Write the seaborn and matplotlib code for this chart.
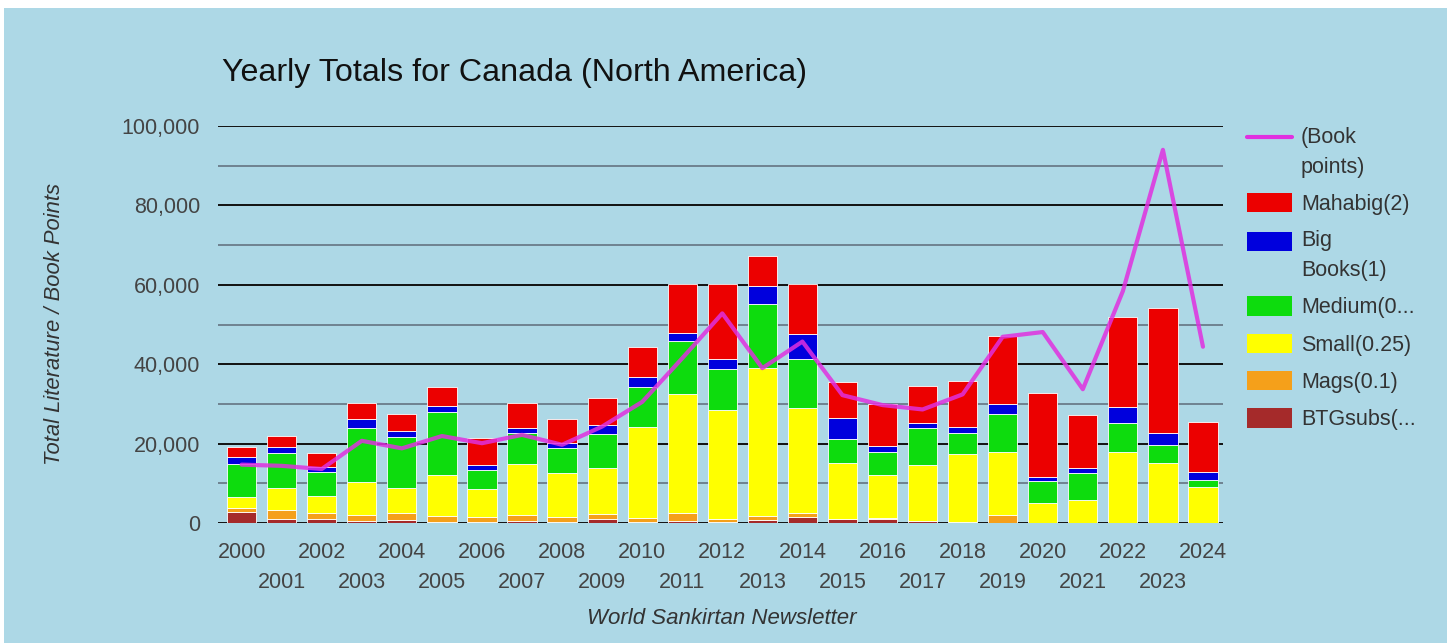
import pandas as pd
import matplotlib.pyplot as plt
import matplotlib.patches as mpatches
import matplotlib.lines as mlines
import matplotlib.transforms as mtransforms
from matplotlib.legend_handler import HandlerPatch, HandlerLine2D
import seaborn as sns

# --- Data ---
years = list(range(2000, 2025))

btg_subs = [2850, 900, 900, 600, 750, 300, 200, 500, 300, 900, 330, 600, 330,
            750, 1600, 900, 1100, 500, 100, 0, 0, 0, 0, 0, 0]
mags = [1000, 2400, 1700, 1400, 1850, 1450, 1250, 1500, 1130, 1300, 850, 1840,
        600, 1100, 840, 100, 100, 100, 230, 2000, 0, 0, 0, 0, 0]
small = [2600, 5600, 4200, 8400, 6300, 10350, 7050, 12850, 11070, 11600, 23070,
         30060, 27520, 37100, 26460, 14040, 10900, 14100, 17050, 15960, 5120,
         5800, 17960, 15040, 9000]
medium = [8500, 8800, 6100, 13600, 12700, 15900, 4850, 7900, 6300, 8600, 9950,
          13400, 10350, 16150, 12300, 6060, 5870, 9250, 5220, 9490, 5540, 6880,
          7310, 4610, 1830]
big_books = [1700, 1500, 1100, 2100, 1600, 1500, 1250, 1250, 1400, 2300, 2650,
             2050, 2400, 4600, 6400, 5300, 1440, 1250, 1650, 2550, 1010, 1090,
             4030, 3100, 2090]
mahabig = [2600, 2800, 3550, 4050, 4200, 4700, 6900, 6150, 5900, 6700, 7550,
           12150, 18900, 7550, 12500, 9050, 10600, 9250, 11600, 17100, 21130,
           13430, 22670, 31330, 12600]
book_points = [14700, 14400, 13600, 20700, 18800, 21900, 20100, 22200, 19700,
               24300, 30500, 41500, 52800, 39000, 45700, 32200, 29700, 28600,
               32400, 46900, 48100, 33700, 58400, 94000, 44400]

categories = ['Mahabig(2)', 'Big Books(1)', 'Medium(0...', 'Small(0.25)',
              'Mags(0.1)', 'BTGsubs(...']
legend_labels = ['Mahabig(2)', 'Big\nBooks(1)', 'Medium(0...', 'Small(0.25)',
                 'Mags(0.1)', 'BTGsubs(...']
colors = ['#ec0000', '#0000dd', '#0ddc0d', '#ffff00', '#f5a01a', '#a52a2a']
series = [mahabig, big_books, medium, small, mags, btg_subs]

# long table for seaborn stacking
rows = []
for cat, vals in zip(categories, series):
    for y, v in zip(years, vals):
        rows.append({'year': y, 'category': cat, 'count': v})
df = pd.DataFrame(rows)

# --- Style ---
BG = '#add8e6'
LINE_COLOR = '#e030e0'
LEG_FS = 15.5
sns.set_theme(style='white')
plt.rcParams['font.family'] = ['Liberation Sans', 'DejaVu Sans']


# legend handles sit next to the first line of a wrapped label
class RaisedPatch(HandlerPatch):
    def __init__(self, dy, **kw):
        super().__init__(**kw)
        self.dy = dy

    def create_artists(self, legend, orig_handle, xdescent, ydescent, width,
                       height, fontsize, trans):
        return super().create_artists(legend, orig_handle, xdescent,
                                      ydescent - self.dy, width, height,
                                      fontsize, trans)


class RaisedLine(HandlerLine2D):
    def __init__(self, dy, **kw):
        super().__init__(**kw)
        self.dy = dy

    def create_artists(self, legend, orig_handle, xdescent, ydescent, width,
                       height, fontsize, trans):
        return super().create_artists(legend, orig_handle, xdescent,
                                      ydescent - 2 * self.dy, width, height,
                                      fontsize, trans)


fig = plt.figure(figsize=(14.47, 6.43), dpi=100, facecolor='white')
fig.patches.append(mpatches.Rectangle((4 / 1447, 0), 1, 1 - 8 / 643,
                                      transform=fig.transFigure,
                                      facecolor=BG, edgecolor='none', zorder=-10))

ax = fig.add_axes([218 / 1447, 120 / 643, (1223 - 218) / 1447, (523 - 126) / 643])
ax.set_facecolor(BG)

sns.histplot(data=df, x='year', weights='count', hue='category',
             hue_order=categories, palette=dict(zip(categories, colors)),
             multiple='stack', discrete=True, shrink=0.73, alpha=1,
             edgecolor='white', linewidth=0.6, legend=False, ax=ax, zorder=2)

sns.lineplot(x=years, y=book_points, color=LINE_COLOR, linewidth=3, alpha=0.85,
             ax=ax, zorder=3)

# axes / gridlines
ax.set_xlim(1999.41, 2024.5)
ax.set_ylim(0, 100000)
ax.set_yticks(range(0, 100001, 20000))
ax.set_yticks(range(10000, 100000, 20000), minor=True)
ax.set_yticklabels([f'{v:,}' for v in range(0, 100001, 20000)])
ax.grid(axis='y', which='major', color='#111111', linewidth=1.4, zorder=0)
ax.grid(axis='y', which='minor', color='#6f8290', linewidth=1.4, zorder=0)
ax.set_axisbelow(True)
for s in ax.spines.values():
    s.set_visible(False)

# year labels on two staggered rows
ax.set_xticks(years)
ax.set_xticklabels([str(y) for y in years])
ax.tick_params(axis='x', length=0, pad=14, labelsize=15.5, labelcolor='#444444')
ax.tick_params(axis='y', which='both', length=0, pad=13, labelsize=15.5,
               labelcolor='#444444')
shift = mtransforms.ScaledTranslation(0, -0.30, fig.dpi_scale_trans)
for y, t in zip(years, ax.get_xticklabels()):
    if y % 2 == 1:
        t.set_transform(t.get_transform() + shift)
ax.set_xlabel('')
ax.set_ylabel('')

# titles
fig.text(222 / 1447, 1 - 73 / 643, 'Yearly Totals for Canada (North America)',
         fontsize=23.2, color='#111111', va='center', ha='left')
fig.text(55 / 1447, 1 - 324 / 643, 'Total Literature / Book Points',
         fontsize=15.8, style='italic', color='#333333', rotation=90,
         va='center', ha='center')
fig.text(722 / 1447, 1 - 619 / 643, 'World Sankirtan Newsletter',
         fontsize=16, style='italic', color='#333333', va='center', ha='center')

# legend
line_handle = mlines.Line2D([], [], color=LINE_COLOR, linewidth=3)
patch_handles = [mpatches.Patch(facecolor=c, edgecolor='none') for c in colors]
handles = [line_handle] + patch_handles
labels = ['(Book\npoints)'] + legend_labels
dy = 0.7 * LEG_FS
handler_map = {line_handle: RaisedLine(dy), patch_handles[1]: RaisedPatch(dy)}
leg = fig.legend(handles, labels, loc='upper left',
                 bbox_to_anchor=(1247 / 1447, 1 - 127 / 643),
                 bbox_transform=fig.transFigure, frameon=False,
                 fontsize=LEG_FS, labelcolor='#333333', handlelength=2.1,
                 handleheight=1.0, handletextpad=0.4, labelspacing=0.71,
                 borderpad=0, borderaxespad=0, handler_map=handler_map)
for t in leg.get_texts():
    t.set_linespacing(1.55)

fig.savefig('out.png', dpi=100, facecolor=fig.get_facecolor())
